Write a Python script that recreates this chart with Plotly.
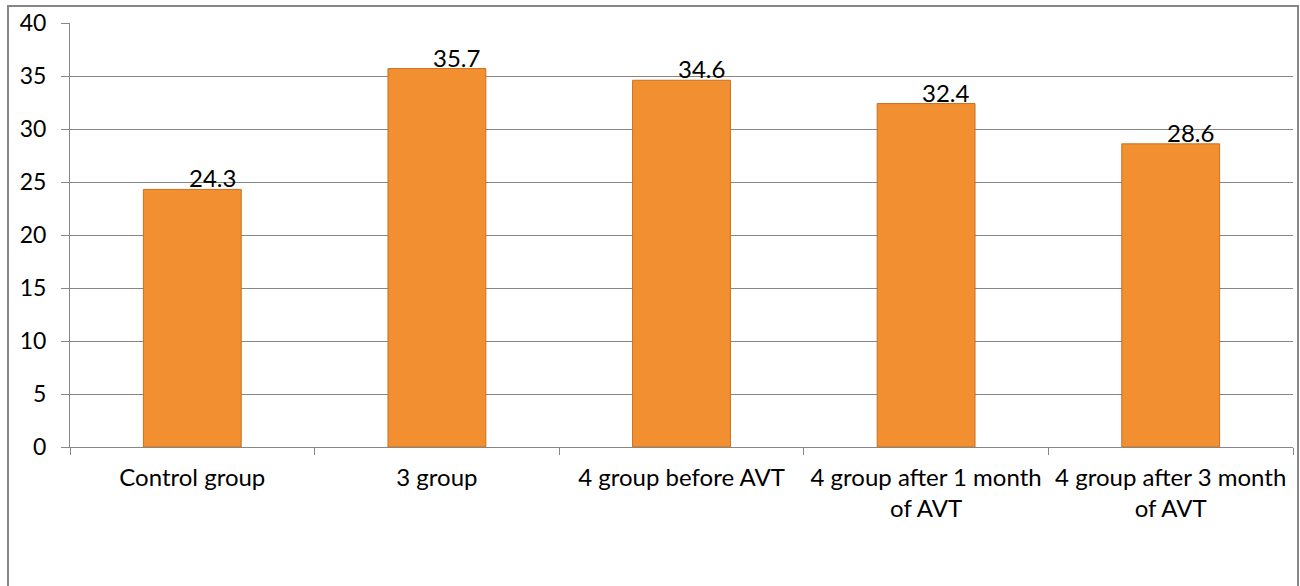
import plotly.graph_objects as go

categories = ["Control group", "3 group", "4 group before AVT",
              "4 group after 1 month<br>of AVT", "4 group after 3 month<br>of AVT"]
values = [24.3, 35.7, 34.6, 32.4, 28.6]
y_ticks = [0, 5, 10, 15, 20, 25, 30, 35, 40]

FONT = "Lato"
FS = 24
GRAY = "#868686"

fig = go.Figure()
fig.add_trace(go.Bar(
    x=categories, y=values, width=0.4,
    marker=dict(color="#F28F30", line=dict(color="#C8711F", width=1)),
    showlegend=False, hoverinfo="x+y",
))
for c, v in zip(categories, values):
    fig.add_annotation(x=c, y=v, text=f"{v}", showarrow=False,
                       xanchor="center", yanchor="bottom", xshift=20, yshift=-5,
                       font=dict(family=FONT, size=FS, color="#000000"))

W, H = 1300, 586
L, R, T, B = 70, 7, 23, 139
pw, ph = W - L - R, H - T - B
fig.add_shape(type="rect", xref="paper", yref="paper",
              x0=(8 - L) / pw, x1=(1298 - L) / pw,
              y0=(H - B - 592) / ph, y1=(H - B - 6) / ph,
              line=dict(color=GRAY, width=2), fillcolor="rgba(0,0,0,0)", layer="below")

fig.update_layout(
    width=W, height=H,
    margin=dict(l=L, r=R, t=T, b=B),
    paper_bgcolor="white", plot_bgcolor="white",
    font=dict(family=FONT, size=FS, color="#000000"),
    bargap=0.6,
)
fig.update_xaxes(
    type="category", showgrid=False, showline=True, linecolor=GRAY, linewidth=1,
    ticks="outside", tickson="boundaries", ticklen=7, tickcolor=GRAY,
    tickfont=dict(family=FONT, size=FS), ticklabelstandoff=9, tickangle=0,
)
fig.update_yaxes(
    range=[0, 40], tickvals=y_ticks, showgrid=True, gridcolor=GRAY, gridwidth=1,
    showline=True, linecolor=GRAY, linewidth=1, ticks="outside", ticklen=8,
    tickcolor=GRAY, zeroline=False, tickfont=dict(family=FONT, size=FS - 1),
    ticklabelstandoff=10,
)
fig.write_html("out.html")
